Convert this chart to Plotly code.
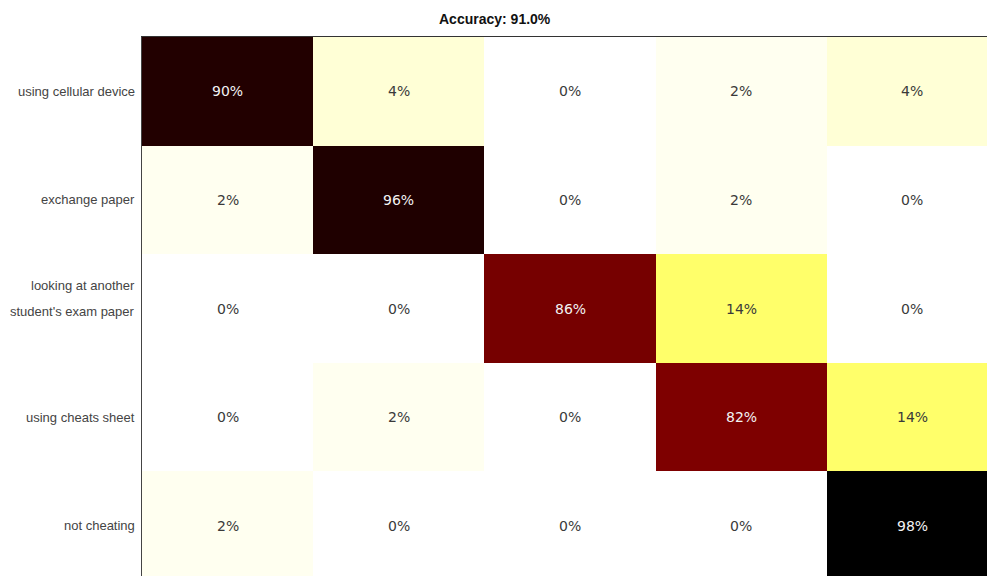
import plotly.graph_objects as go

classes = ["using cellular device", "exchange paper", "looking at another student's exam paper",
           "using cheats sheet", "not cheating"]
row_labels = ["using cellular device", "exchange paper", "looking at another<br>student's exam paper",
              "using cheats sheet", "not cheating"]
values = [
    [90, 4, 0, 2, 4],
    [2, 96, 0, 2, 0],
    [0, 0, 86, 14, 0],
    [0, 2, 0, 82, 14],
    [2, 0, 0, 0, 98],
]
title_text = "Accuracy: 91.0%"

vmax = 98.0
colorscale = [
    [0.0, "#ffffff"],
    [2 / vmax, "#fffff0"],
    [4 / vmax, "#ffffd6"],
    [14 / vmax, "#ffff6a"],
    [82 / vmax, "#7e0000"],
    [86 / vmax, "#760000"],
    [90 / vmax, "#220000"],
    [96 / vmax, "#1f0000"],
    [1.0, "#000000"],
]

n = len(classes)
fig = go.Figure(go.Heatmap(
    z=values, x=list(range(n)), y=list(range(n)),
    colorscale=colorscale, zmin=0, zmax=vmax, showscale=False,
    hoverinfo="skip",
))

annotations = []
for i in range(n):
    for j in range(n):
        v = values[i][j]
        annotations.append(dict(
            x=j, y=i, xref="x", yref="y", text=f"{v}%", showarrow=False,
            font=dict(family="DejaVu Sans", size=14, color="#f2f2f2" if v > 50 else "#3a3a3a"),
        ))

for i, lab in enumerate(row_labels):
    parts = lab.split("<br>")
    if len(parts) == 1:
        annotations.append(dict(x=0, y=i, xref="paper", yref="y", text=lab, showarrow=False,
                                xanchor="right", xshift=-5,
                                font=dict(family="Liberation Sans", size=13, color="#444444")))
    else:
        for k, p in enumerate(parts):
            annotations.append(dict(x=0, y=i, xref="paper", yref="y", text=p, showarrow=False,
                                    xanchor="right", xshift=-5, yshift=23 - 26 * k,
                                    font=dict(family="Liberation Sans", size=13, color="#444444")))

annotations.append(dict(x=(495 - 142) / (987 - 142), y=1, xref="paper", yref="paper",
                        yanchor="bottom", yshift=8, text=f"<b>{title_text}</b>", showarrow=False,
                        font=dict(family="Liberation Sans", size=14, color="#111111")))

fig.update_layout(
    width=987, height=576,
    margin=dict(l=142, r=0, t=37, b=0),
    paper_bgcolor="white", plot_bgcolor="white",
    annotations=annotations,
    xaxis=dict(range=[-0.5, -0.5 + 845 / 171.2], showgrid=False, zeroline=False,
               showticklabels=False, ticks="", showline=True, side="top",
               linecolor="#333333", linewidth=1),
    yaxis=dict(range=[-0.5 + 539 / 108.6, -0.5], showgrid=False, zeroline=False,
               showticklabels=False, ticks="", showline=True, linecolor="#444444", linewidth=1),
)

fig.write_html("out.html")
